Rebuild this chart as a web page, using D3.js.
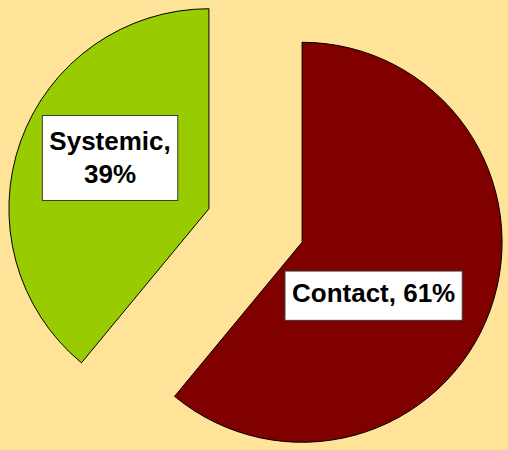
<!DOCTYPE html>
<html>
<head>
<meta charset="utf-8">
<script src="https://cdn.jsdelivr.net/npm/d3@7/dist/d3.min.js"></script>
<style>
  html, body { margin: 0; padding: 0; background: #FEE399; }
  svg { display: block; }
</style>
</head>
<body>
<svg id="chart" width="508" height="450"></svg>
<script>
// Share of treatment types
const categories = ["Contact", "Systemic"];
const values = [61, 39];
const colors = ["#800000", "#99CC00"];

const width = 508, height = 450;
const radius = 200;
const explode = 49.5;
const cx = 255.5, cy = 225.5;

const svg = d3.select("#chart");

svg.append("rect")
  .attr("width", width).attr("height", height)
  .attr("fill", "#FEE399");

const pie = d3.pie().sort(null).value(d => d.value);
const arcs = pie(categories.map((c, i) => ({ name: c, value: values[i], color: colors[i] })));

const arc = d3.arc().innerRadius(0).outerRadius(radius);

const root = svg.append("g").attr("transform", `translate(${cx},${cy})`);

function offset(d, dist) {
  const a = (d.startAngle + d.endAngle) / 2;
  return [Math.sin(a) * dist, -Math.cos(a) * dist];
}

const slices = root.selectAll("g.slice")
  .data(arcs)
  .join("g")
  .attr("class", "slice")
  .attr("transform", d => {
    const [dx, dy] = offset(d, explode);
    return `translate(${dx},${dy})`;
  });

slices.append("path")
  .attr("d", arc)
  .attr("fill", d => d.data.color)
  .attr("stroke", "#000")
  .attr("stroke-width", 1)
  .attr("stroke-linejoin", "miter");

// Data labels: boxed text placed inside each slice
const labelSpec = {
  Contact:  { lines: d => [`${d.data.name}, ${d.data.value}%`], angleShift: 0.27, r: 87.6 },
  Systemic: { lines: d => [`${d.data.name},`, `${d.data.value}%`], angleShift: 0.135, r: 111.5 }
};

const fontSize = 26, lineH = 33, padX = 7;

slices.each(function(d) {
  const spec = labelSpec[d.data.name];
  const a = (d.startAngle + d.endAngle) / 2 + spec.angleShift;
  const lx = Math.sin(a) * spec.r, ly = -Math.cos(a) * spec.r;
  const g = d3.select(this).append("g").attr("transform", `translate(${lx},${ly})`);
  const lines = spec.lines(d);
  const text = g.append("text")
    .attr("text-anchor", "middle")
    .attr("font-family", "'Liberation Sans', Arial, sans-serif")
    .attr("font-weight", "bold")
    .attr("font-size", fontSize)
    .attr("fill", "#000");
  const total = lines.length * lineH;
  lines.forEach((t, i) => {
    text.append("tspan")
      .attr("x", 0)
      .attr("y", -total / 2 + i * lineH + lineH / 2)
      .attr("dy", "0.35em")
      .text(t);
  });
  const bb = text.node().getBBox();
  const padTop = lines.length > 1 ? 8.7 : 5.3;
  const padBottom = lines.length > 1 ? 10.3 : 11;
  g.insert("rect", "text")
    .attr("x", bb.x - padX)
    .attr("y", -total / 2 - padTop)
    .attr("width", bb.width + padX * 2)
    .attr("height", total + padTop + padBottom)
    .attr("fill", "#fff")
    .attr("stroke", "#3a3a3a")
    .attr("stroke-width", 1);
});
</script>
</body>
</html>
